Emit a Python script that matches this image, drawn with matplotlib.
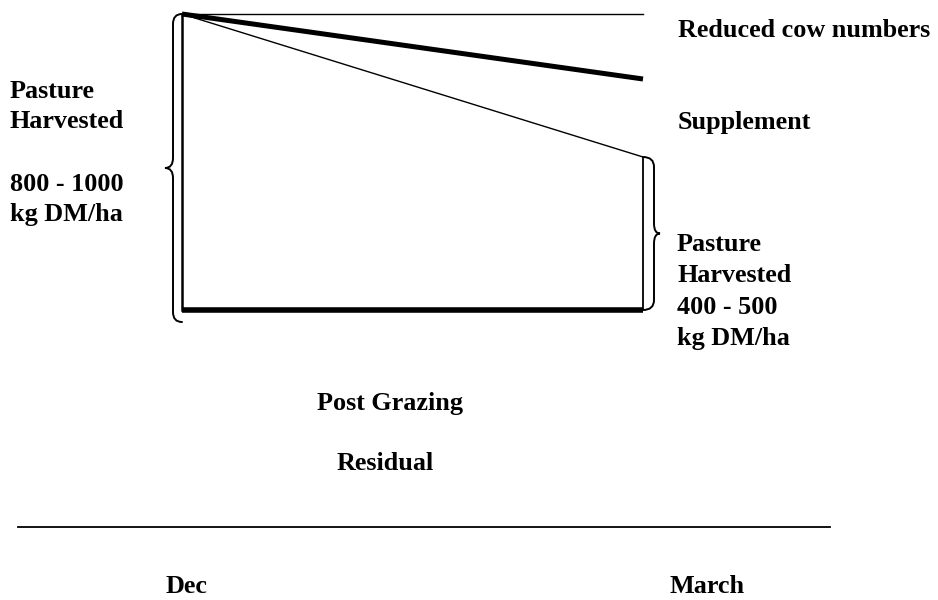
import matplotlib
matplotlib.use("Agg")
import matplotlib.pyplot as plt
from matplotlib.path import Path
from matplotlib.patches import PathPatch

# diagram levels (pixel space of the original sketch, y grows downwards)
x_dec, x_march = 182, 643
top_level = 14
reduced_cows_end = 79      # thick line: reduced cow numbers
supplement_end = 157       # thin line: supplement
residual_level = 310       # post grazing residual
axis_y = 527
axis_x = [18, 830]

# text labels (baselines)
left_labels = ["Pasture", "Harvested", "800 - 1000", "kg DM/ha"]
left_label_y = [98, 128, 191, 221]
right_labels = ["Pasture", "Harvested", "400 - 500", "kg DM/ha"]
right_label_y = [251, 282, 314, 345]
month_labels = ["Dec", "March"]
month_x = [166, 669]

plt.rcParams['font.family'] = ['Liberation Serif', 'DejaVu Serif']

fig = plt.figure(figsize=(9.38, 6.0), dpi=100)
ax = fig.add_axes([0, 0, 1, 1])
ax.set_xlim(0, 938)
ax.set_ylim(600, 0)
ax.axis('off')


def brace(x, y0, y1, w, tip, r=10):
    # curly brace attached at x, bulging by w (sign gives direction)
    ym = (y0 + y1) / 2
    xo = x + w
    verts = [(x, y0), (xo, y0), (xo, y0 + r),
             (xo, ym - r), (xo, ym), (xo + tip, ym),
             (xo, ym), (xo, ym + r),
             (xo, y1 - r), (xo, y1), (x, y1)]
    codes = [Path.MOVETO, Path.CURVE3, Path.CURVE3,
             Path.LINETO, Path.CURVE3, Path.CURVE3,
             Path.CURVE3, Path.CURVE3,
             Path.LINETO, Path.CURVE3, Path.CURVE3]
    ax.add_patch(PathPatch(Path(verts, codes), fill=False, lw=1.4,
                           edgecolor='black', capstyle='round'))


# pasture lines
ax.plot([x_dec, x_march], [top_level, top_level], color='black', lw=1.0)
ax.plot([x_dec, x_march], [top_level, reduced_cows_end], color='black', lw=3.6,
        solid_capstyle='butt')
ax.plot([x_dec, x_march], [top_level, supplement_end], color='black', lw=1.0)
ax.plot([x_dec, x_dec], [top_level, residual_level], color='black', lw=1.8)
ax.plot([x_march, x_march], [supplement_end, residual_level], color='black', lw=1.3)
ax.plot([x_dec, x_march], [residual_level, residual_level], color='black', lw=4.0,
        solid_capstyle='butt')

# braces
brace(x_dec, top_level, 322, -9, -8)
brace(x_march, supplement_end, residual_level, 11, 6)

# time axis line
ax.plot(axis_x, [axis_y, axis_y], color='black', lw=1.3)

fs = 18.8
kw = dict(fontsize=fs, fontweight='bold', va='baseline', ha='left')
ax.text(678, 37, "Reduced cow numbers", **kw)
ax.text(678, 129, "Supplement", **kw)
for lab, y in zip(left_labels, left_label_y):
    ax.text(10, y, lab, **kw)
for lab, y in zip(right_labels, right_label_y):
    ax.text(677, y, lab, **kw)
ax.text(317, 410, "Post Grazing", **kw)
ax.text(337, 470, "Residual", **kw)
for lab, x in zip(month_labels, month_x):
    ax.text(x, 593, lab, **kw)

fig.savefig("out.png", dpi=100)
